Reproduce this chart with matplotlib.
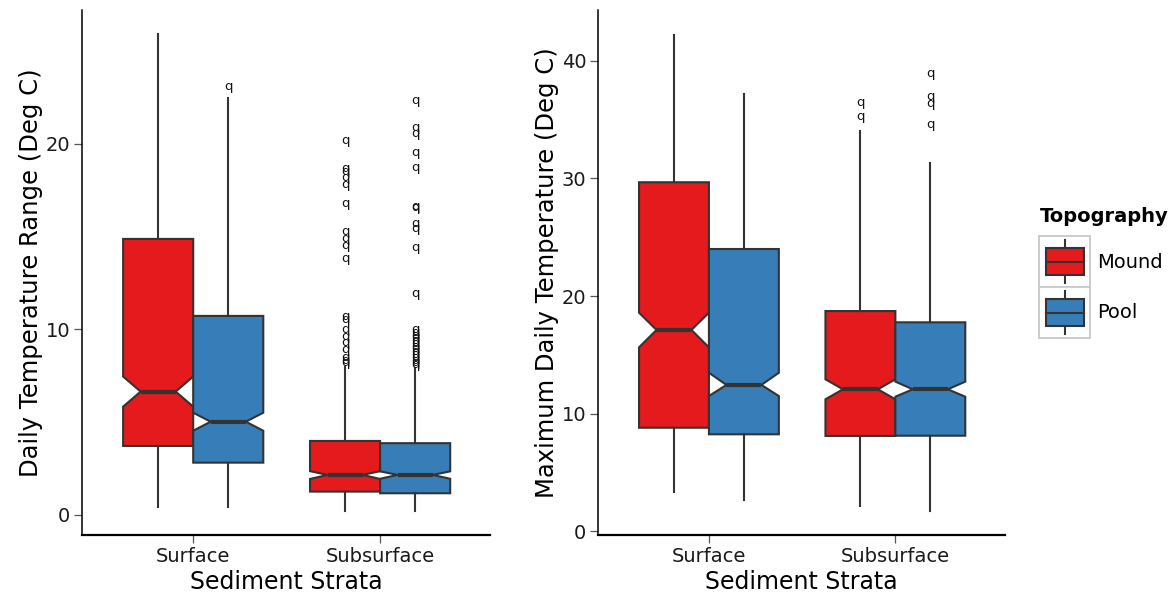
import matplotlib

matplotlib.use("Agg")
import matplotlib.pyplot as plt
from matplotlib.patches import Rectangle

# categories
strata = ["Surface", "Subsurface"]
topography = ["Mound", "Pool"]
colors = {"Mound": "#E41A1C", "Pool": "#377EB8"}

# Daily temperature range, order: Surface-Mound, Surface-Pool, Subsurface-Mound, Subsurface-Pool
dtr_q1 = [3.72, 2.82, 1.26, 1.17]
dtr_med = [6.65, 5.03, 2.16, 2.16]
dtr_q3 = [14.88, 10.73, 3.99, 3.87]
dtr_notch_lo = [5.84, 4.54, 1.94, 1.95]
dtr_notch_hi = [7.46, 5.51, 2.36, 2.35]
dtr_whislo = [0.43, 0.43, 0.2, 0.2]
dtr_whishi = [25.9, 22.5, 8.0, 7.9]
dtr_outliers = [
    [],
    [23.07],
    [20.2, 18.7, 18.5, 18.2, 17.8, 16.8, 15.3, 14.9, 14.5, 13.8,
     10.7, 10.55, 10.0, 9.6, 9.3, 8.9, 8.5, 8.3, 8.2],
    [22.35, 20.9, 20.55, 19.55, 18.75, 16.62, 16.55, 15.7, 15.45, 14.4, 11.95,
     10.0, 9.85, 9.7, 9.55, 9.4, 9.25, 9.1, 8.95, 8.8, 8.65, 8.5, 8.35, 8.2, 8.1],
]

# Maximum daily temperature
max_q1 = [8.79, 8.23, 8.09, 8.11]
max_med = [17.11, 12.43, 12.06, 12.06]
max_q3 = [29.68, 24.0, 18.72, 17.76]
max_notch_lo = [15.63, 11.49, 11.21, 11.43]
max_notch_hi = [18.58, 13.47, 12.91, 12.71]
max_whislo = [3.3, 2.6, 2.1, 1.7]
max_whishi = [42.2, 37.2, 34.0, 31.3]
max_outliers = [[], [], [36.5, 35.3], [38.9, 37.0, 36.4, 34.6]]

EDGE = "#333333"
BOX_W = 0.375
DODGE = 0.1875


def draw_panel(ax, q1, med, q3, nlo, nhi, wlo, whi, outliers, ylabel, ylim, yticks):
    k = 0
    for i, _ in enumerate(strata):
        for j, topo in enumerate(topography):
            pos = i + 1 + (j - 0.5) * 2 * DODGE
            stats = [{
                "med": med[k], "q1": q1[k], "q3": q3[k],
                "cilo": nlo[k], "cihi": nhi[k],
                "whislo": wlo[k], "whishi": whi[k], "fliers": [],
            }]
            ax.bxp(
                stats, positions=[pos], widths=BOX_W, shownotches=True,
                showcaps=False, showfliers=False, patch_artist=True,
                boxprops={"facecolor": colors[topo], "edgecolor": EDGE, "linewidth": 1.5},
                medianprops={"color": EDGE, "linewidth": 3.0, "solid_capstyle": "butt"},
                whiskerprops={"color": EDGE, "linewidth": 1.5},
                manage_ticks=False,
            )
            for v in outliers[k]:
                ax.text(pos, v, "q", ha="center", va="center", fontsize=9.5, color="#111111")
            k += 1

    ax.set_xlim(0.405, 2.588)
    ax.set_ylim(*ylim)
    ax.set_xticks([1, 2])
    ax.set_xticklabels(strata)
    ax.set_yticks(yticks)
    ax.tick_params(axis="both", length=5.5, width=0.9, color="#555555",
                   labelsize=14, labelcolor="#1a1a1a", pad=3)
    for side in ["top", "right"]:
        ax.spines[side].set_visible(False)
    ax.spines["left"].set_linewidth(1.1)
    ax.spines["bottom"].set_linewidth(1.6)
    ax.set_xlabel("Sediment Strata", fontsize=17, labelpad=3)
    ax.set_ylabel(ylabel, fontsize=17.5, labelpad=2)


fig = plt.figure(figsize=(11.72, 6.01), dpi=100)
ax1 = fig.add_axes([82 / 1172, 66 / 601, 408 / 1172, 525 / 601])
ax2 = fig.add_axes([598 / 1172, 66 / 601, 407 / 1172, 525 / 601])

draw_panel(ax1, dtr_q1, dtr_med, dtr_q3, dtr_notch_lo, dtr_notch_hi,
           dtr_whislo, dtr_whishi, dtr_outliers,
           "Daily Temperature Range (Deg C)", (-1.08, 27.22), [0, 10, 20])
draw_panel(ax2, max_q1, max_med, max_q3, max_notch_lo, max_notch_hi,
           max_whislo, max_whishi, max_outliers,
           "Maximum Daily Temperature (Deg C)", (-0.34, 44.34), [0, 10, 20, 30, 40])

# legend drawn in pixel space
leg = fig.add_axes([0, 0, 1, 1])
leg.set_xlim(0, 1172)
leg.set_ylim(601, 0)
leg.axis("off")
leg.text(1040, 217, "Topography", fontsize=14, fontweight="bold", va="center", ha="left")
for n, topo in enumerate(topography):
    top = 236 + n * 51
    leg.add_patch(Rectangle((1039, top), 51, 51, facecolor="white", edgecolor="#cccccc", linewidth=1.4))
    leg.add_patch(Rectangle((1046, top + 12), 38, 27, facecolor=colors[topo], edgecolor=EDGE, linewidth=1.5))
    leg.plot([1065, 1065], [top + 4, top + 12], color=EDGE, lw=1.5)
    leg.plot([1065, 1065], [top + 39, top + 47], color=EDGE, lw=1.5)
    leg.plot([1046, 1084], [top + 25.5, top + 25.5], color=EDGE, lw=1.5)
    leg.text(1097, top + 26, topo, fontsize=14, va="center", ha="left")

fig.savefig("out.png", dpi=100)
